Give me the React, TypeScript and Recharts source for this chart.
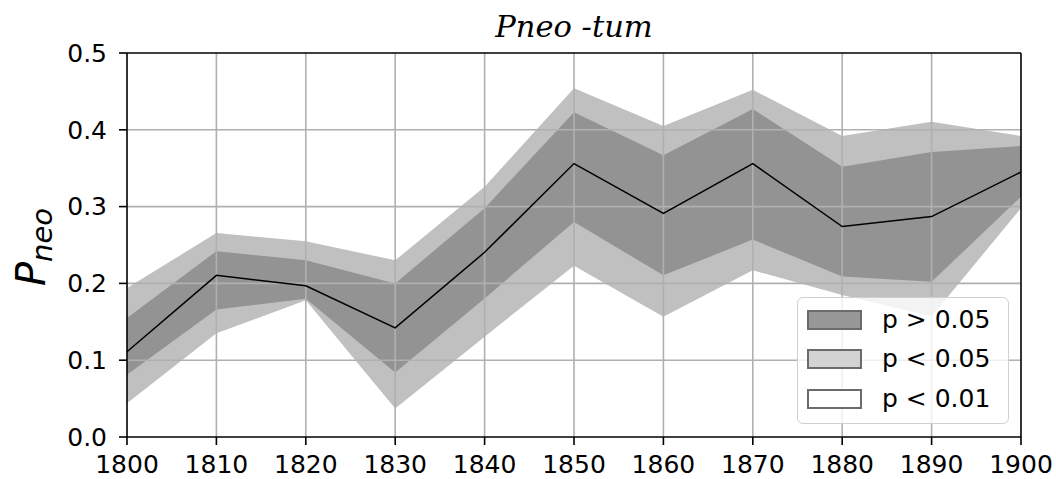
import React from 'react';
import {
  ComposedChart,
  Area,
  Line,
  XAxis,
  YAxis,
  ReferenceLine,
  Legend,
} from 'recharts';

const years = [1800, 1810, 1820, 1830, 1840, 1850, 1860, 1870, 1880, 1890, 1900];
const meanValues = [0.111, 0.2105, 0.197, 0.142, 0.2405, 0.356, 0.291, 0.356, 0.274, 0.287, 0.345];
const darkHigh = [0.155, 0.242, 0.23, 0.2, 0.298, 0.423, 0.367, 0.427, 0.352, 0.371, 0.379];
const darkLow = [0.081, 0.166, 0.18, 0.084, 0.1805, 0.28, 0.2105, 0.257, 0.209, 0.202, 0.313];
const lightHigh = [0.194, 0.2656, 0.255, 0.23, 0.326, 0.454, 0.405, 0.452, 0.392, 0.4106, 0.392];
const lightLow = [0.044, 0.135, 0.178, 0.037, 0.1306, 0.223, 0.1567, 0.217, 0.185, 0.157, 0.298];

const xTicks = [1800, 1810, 1820, 1830, 1840, 1850, 1860, 1870, 1880, 1890, 1900];
const yTicks = [0, 0.1, 0.2, 0.3, 0.4, 0.5];
const legendLabels = ['p > 0.05', 'p < 0.05', 'p < 0.01'];
const legendFills = ['#979797', '#d3d3d3', '#ffffff'];
const titleText = 'Pneo -tum';
const yLabelMain = 'P';
const yLabelSub = 'neo';

const data = years.map((y, i) => ({
  year: y,
  mean: meanValues[i],
  dark: [darkLow[i], darkHigh[i]],
  light: [lightLow[i], lightHigh[i]],
}));

const FONT = '"DejaVu Sans", sans-serif';
const tickStyle = { fontSize: 25, fontFamily: FONT, fill: '#000' };

const LegendBox = () => (
  <div
    style={{
      position: 'relative',
      width: 212,
      height: 127,
      boxSizing: 'border-box',
      border: '1.5px solid #d0d0d0',
      borderRadius: 6,
      background: 'rgba(255,255,255,0.8)',
      fontFamily: FONT,
    }}
  >
    {legendLabels.map((lab, i) => (
      <React.Fragment key={lab}>
        <div
          style={{
            position: 'absolute',
            left: 9,
            top: 12 + i * 39.3,
            width: 55,
            height: 20,
            boxSizing: 'border-box',
            border: '2px solid #6b6b6b',
            background: legendFills[i],
          }}
        />
        <div
          style={{
            position: 'absolute',
            left: 84,
            top: 12 + i * 39.3 + 10 - 15,
            height: 30,
            lineHeight: '30px',
            fontSize: 25,
            color: '#000',
            whiteSpace: 'nowrap',
          }}
        >
          {lab}
        </div>
      </React.Fragment>
    ))}
  </div>
);

const Texts = () => (
  <g>
    <text
      x={574}
      y={37}
      textAnchor="middle"
      fontFamily='"DejaVu Serif", serif'
      fontStyle="italic"
      fontSize={30.5}
      fill="#000"
    >
      {titleText}
    </text>
    <text
      transform="translate(45,247) rotate(-90)"
      textAnchor="middle"
      fontFamily={FONT}
      fontStyle="italic"
      fontSize={40}
      fill="#000"
    >
      {yLabelMain}
      <tspan fontSize={29} dy={7}>
        {yLabelSub}
      </tspan>
    </text>
  </g>
);

export default function App() {
  return (
    <div style={{ position: 'absolute', left: 0, top: 0 }}>
      <ComposedChart
        width={1056}
        height={479}
        data={data}
        margin={{ top: 53, right: 35, bottom: 0, left: 0 }}
      >
        <XAxis
          dataKey="year"
          type="number"
          domain={[1800, 1900]}
          ticks={xTicks}
          interval={0}
          height={42}
          tick={tickStyle}
          tickSize={8}
          tickMargin={10}
          tickLine={{ stroke: '#000', strokeWidth: 1.6 }}
          axisLine={{ stroke: '#000', strokeWidth: 1.6 }}
        />
        <YAxis
          type="number"
          domain={[0, 0.5]}
          ticks={yTicks}
          interval={0}
          width={127}
          tick={tickStyle}
          tickSize={8}
          tickMargin={12}
          tickFormatter={(v: number) => v.toFixed(1)}
          tickLine={{ stroke: '#000', strokeWidth: 1.6 }}
          axisLine={{ stroke: '#000', strokeWidth: 1.6 }}
          label={{ content: () => <Texts /> }}
        />
        <Area
          dataKey="light"
          type="linear"
          stroke="none"
          fill="#c0c0c0"
          fillOpacity={1}
          isAnimationActive={false}
          dot={false}
          activeDot={false}
          legendType="none"
        />
        <Area
          dataKey="dark"
          type="linear"
          stroke="none"
          fill="#939393"
          fillOpacity={1}
          isAnimationActive={false}
          dot={false}
          activeDot={false}
          legendType="none"
        />
        {xTicks.slice(1, -1).map((t) => (
          <ReferenceLine key={'x' + t} x={t} stroke="#b0b0b0" strokeWidth={1.6} />
        ))}
        {yTicks.slice(1, -1).map((t) => (
          <ReferenceLine key={'y' + t} y={t} stroke="#b0b0b0" strokeWidth={1.6} />
        ))}
        <ReferenceLine y={0.5} stroke="#000" strokeWidth={1.6} />
        <ReferenceLine x={1900} stroke="#000" strokeWidth={1.6} />
        <Line
          dataKey="mean"
          type="linear"
          stroke="#000"
          strokeWidth={1.5}
          dot={false}
          activeDot={false}
          isAnimationActive={false}
          legendType="none"
        />
        <Legend
          layout="vertical"
          align="center"
          verticalAlign="middle"
          content={() => <LegendBox />}
          wrapperStyle={{ position: 'absolute', left: 797, top: 297, width: 212, height: 127 }}
        />
      </ComposedChart>
    </div>
  );
}
